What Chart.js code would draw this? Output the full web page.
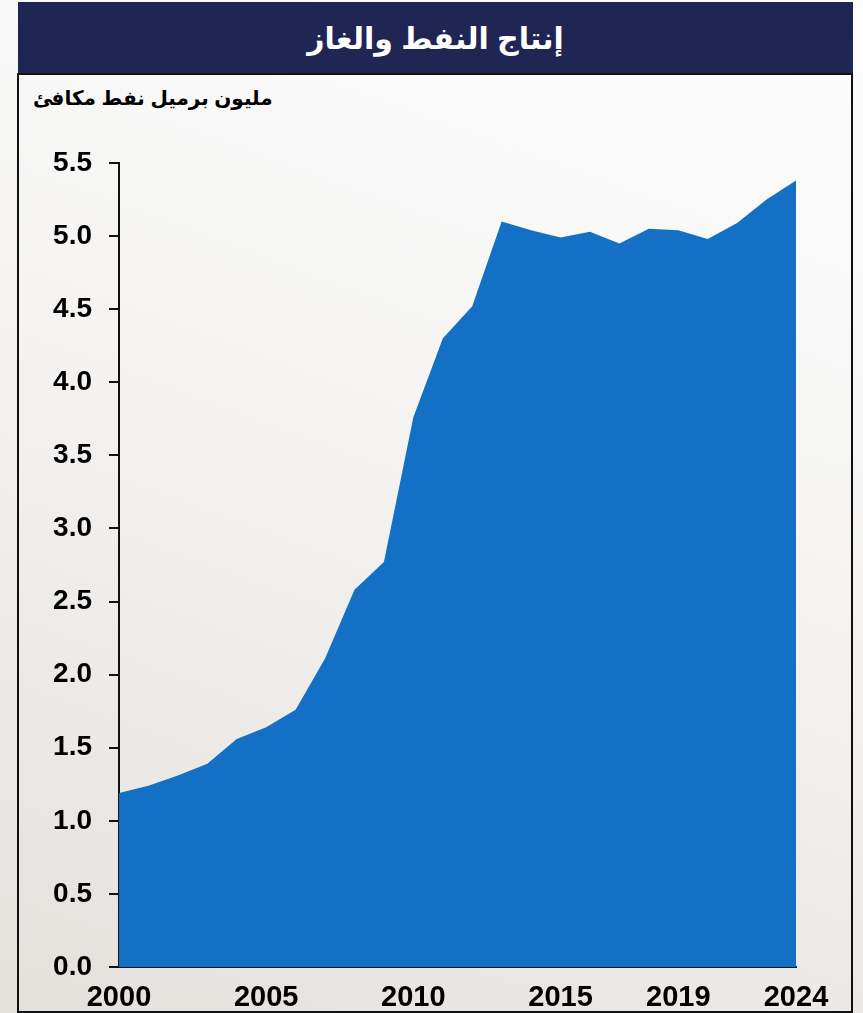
<!DOCTYPE html>
<html>
<head>
  <meta charset="utf-8">
  <title>إنتاج النفط والغاز</title>
  <script src="https://cdn.jsdelivr.net/npm/chart.js"></script>
  <style>
    html, body { margin: 0; padding: 0; }
    body {
      width: 863px; height: 1013px; position: relative; overflow: hidden;
      background: linear-gradient(200deg, #fdfdfd 0%, #f5f4f3 45%, #e4e0dc 100%);
      font-family: "Liberation Sans", Arial, "DejaVu Sans", sans-serif;
    }
    #titleBar {
      position: absolute; left: 18px; top: 2px; width: 835px; height: 72px;
      background: #1f2654; color: #fff; font-weight: bold; font-size: 30px;
      display: flex; align-items: center; justify-content: center; direction: rtl;
    }
    #frame {
      position: absolute; left: 17px; top: 73px; width: 832px; height: 936px;
      border: 2px solid #111;
    }
    #unit {
      position: absolute; left: 33px; top: 86px; font-weight: bold; font-size: 20px;
      color: #000; direction: rtl;
    }
    #wrap { position: absolute; left: 0; top: 0; width: 863px; height: 1013px; }
  </style>
</head>
<body>
  <div id="titleBar">إنتاج النفط والغاز</div>
  <div id="frame"></div>
  <div id="unit">مليون برميل نفط مكافئ</div>
  <div id="wrap"><canvas id="prodChart"></canvas></div>

  <script>
    // سنوات المحور الأفقي (2020 غير موجودة في الرسم الأصلي)
    const years = ['2000','2001','2002','2003','2004','2005','2006','2007','2008','2009',
                   '2010','2011','2012','2013','2014','2015','2016','2017','2018','2019',
                   '2021','2022','2023','2024'];
    // الإنتاج بالمليون برميل نفط مكافئ يوميا
    const production = [1.19, 1.24, 1.31, 1.39, 1.56, 1.64, 1.76, 2.11, 2.58, 2.77,
                        3.76, 4.30, 4.52, 5.10, 5.04, 4.99, 5.03, 4.95, 5.05, 5.04,
                        4.98, 5.09, 5.25, 5.38];
    // السنوات التي تظهر تسمياتها تحت المحور
    const shownYears = ['2000','2005','2010','2015','2019','2024'];

    const ctx = document.getElementById('prodChart').getContext('2d');
    new Chart(ctx, {
      type: 'line',
      data: {
        labels: years,
        datasets: [{
          data: production,
          fill: 'origin',
          backgroundColor: '#1370c5',
          borderWidth: 0,
          pointRadius: 0,
          tension: 0
        }]
      },
      options: {
        responsive: true,
        maintainAspectRatio: false,
        animation: false,
        layout: { padding: { left: 0, right: 67, top: 163, bottom: 0 } },
        plugins: { legend: { display: false }, tooltip: { enabled: false } },
        scales: {
          x: {
            offset: false,
            grid: { display: false },
            border: { display: true, color: '#111', width: 2 },
            ticks: {
              autoSkip: false, maxRotation: 0, padding: 6, color: '#000',
              font: { family: 'Liberation Sans', weight: 'bold', size: 29 },
              callback: function(v, i) { return shownYears.includes(years[i]) ? years[i] : ''; }
            },
            afterFit: s => { s.height = 46; }
          },
          y: {
            min: 0, max: 5.5,
            grid: { drawOnChartArea: false, color: '#111', lineWidth: 2, tickLength: 10 },
            border: { display: true, color: '#111', width: 2 },
            ticks: {
              stepSize: 0.5, padding: 17, color: '#000',
              font: { family: 'Liberation Sans', weight: 'bold', size: 28 },
              callback: v => v.toFixed(1)
            },
            afterFit: s => { s.width = 119; }
          }
        }
      }
    });
  </script>
</body>
</html>
